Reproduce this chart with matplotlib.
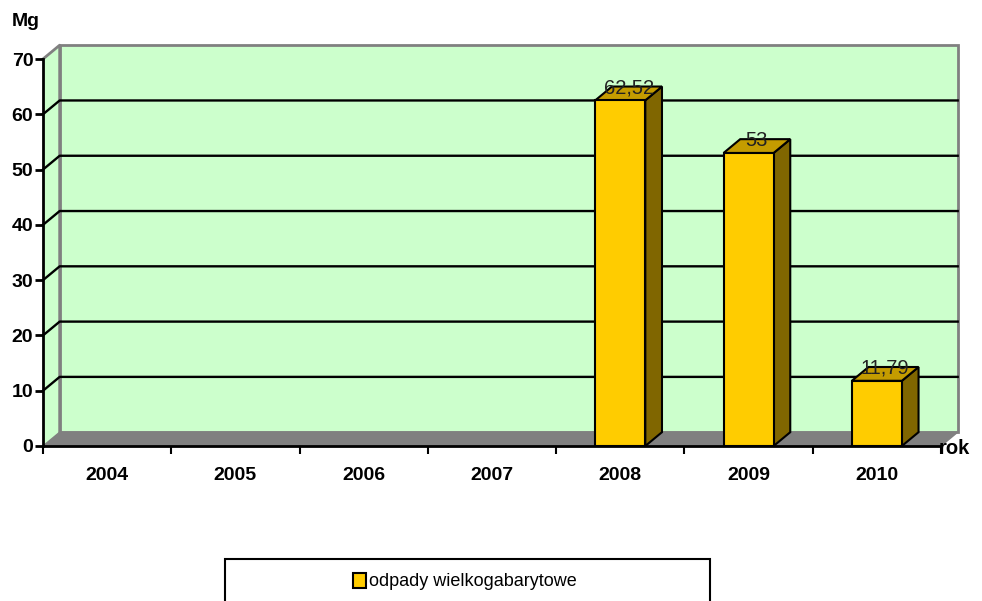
import matplotlib
matplotlib.use('Agg')
import matplotlib.pyplot as plt
from matplotlib.patches import Polygon, Rectangle

plt.rcParams['font.family'] = ['Liberation Sans', 'DejaVu Sans']

# data
years = ['2004', '2005', '2006', '2007', '2008', '2009', '2010']
values = [0, 0, 0, 0, 62.52, 53, 11.79]
labels = ['', '', '', '', '62,52', '53', '11,79']
series_name = 'odpady wielkogabarytowe'
y_ticks = [0, 10, 20, 30, 40, 50, 60, 70]

# pseudo 3d depth (data units)
dx = 0.13
dy = 2.5
bar_w = 0.39
n = len(years)
ymax = 70

fig = plt.figure(figsize=(9.82, 6.01), dpi=100)
ax = fig.add_axes([43 / 982, (601 - 446) / 601, 898 / 982, 387 / 601])
ax.set_xlim(0, n)
ax.set_ylim(0, ymax)
ax.patch.set_visible(False)

wall = '#CCFFCC'
gray = '#808080'

# back wall
ax.add_patch(Rectangle((dx, dy), n, ymax, facecolor=wall, edgecolor=gray,
                       lw=2, clip_on=False, zorder=0))
# side wall
ax.add_patch(Polygon([(0, 0), (dx, dy), (dx, ymax + dy), (0, ymax)], closed=True,
                     facecolor=wall, edgecolor='none', clip_on=False, zorder=0))
ax.plot([0, dx, dx], [ymax, ymax + dy, dy], color=gray, lw=2, clip_on=False, zorder=1)
# floor
ax.add_patch(Polygon([(0, 0), (n, 0), (n + dx, dy), (dx, dy)], closed=True,
                     facecolor=gray, edgecolor=gray, lw=1, clip_on=False, zorder=1))

# gridlines
for t in y_ticks[1:-1]:
    ax.plot([0, dx, n + dx], [t, t + dy, t + dy], color='black', lw=1.7,
            clip_on=False, zorder=1)

# bars
for i, (v, lab) in enumerate(zip(values, labels)):
    if v <= 0:
        continue
    c = i + 0.5
    x0, x1 = c - bar_w / 2, c + bar_w / 2
    ax.add_patch(Polygon([(x1, 0), (x1 + dx, dy), (x1 + dx, v + dy), (x1, v)], closed=True,
                         facecolor='#806600', edgecolor='black', lw=1.5, clip_on=False, zorder=3))
    ax.add_patch(Polygon([(x0, v), (x0 + dx, v + dy), (x1 + dx, v + dy), (x1, v)], closed=True,
                         facecolor='#C49C00', edgecolor='black', lw=1.5, clip_on=False, zorder=3))
    ax.add_patch(Rectangle((x0, 0), bar_w, v, facecolor='#FFCC00', edgecolor='black',
                           lw=1.5, clip_on=False, zorder=4))
    ax.text(c + dx / 2, v + dy * 0.9, lab, ha='center', va='center', fontsize=14.5,
            color='#222222', zorder=5)

# axes
for s in ['top', 'right']:
    ax.spines[s].set_visible(False)
ax.spines['left'].set_linewidth(2)
ax.spines['bottom'].set_linewidth(2)
ax.spines['left'].set_zorder(6)
ax.spines['bottom'].set_zorder(6)
ax.set_yticks(y_ticks)
ax.set_yticklabels([str(t) for t in y_ticks], fontsize=14, fontweight='bold')
ax.tick_params(axis='y', length=6, width=2, pad=1)
ax.set_xticks(range(n + 1))
ax.set_xticklabels([])
ax.set_xticks([i + 0.5 for i in range(n)], minor=True)
ax.set_xticklabels(years, minor=True, fontsize=14, fontweight='bold')
ax.tick_params(axis='x', which='major', length=6, width=1.5)
ax.tick_params(axis='x', which='minor', length=0, pad=15)

fig.text(12 / 982, 1 - 21 / 601, 'Mg', fontsize=14, fontweight='bold', va='center')
fig.text(939 / 982, 1 - 448 / 601, 'rok', fontsize=14.5, fontweight='bold', va='center')

# legend box
fig.patches.append(Rectangle((225 / 982, -0.05), 485 / 982, 0.05 + (601 - 559) / 601,
                             transform=fig.transFigure, facecolor='white',
                             edgecolor='black', lw=1.5))
fig.patches.append(Rectangle((353 / 982, 1 - 588 / 601), 13 / 982, 15 / 601,
                             transform=fig.transFigure, facecolor='#FFCC00',
                             edgecolor='black', lw=1.5))
fig.text(369 / 982, 1 - 581 / 601, series_name, fontsize=13, va='center')

fig.savefig('out.png', dpi=100)
